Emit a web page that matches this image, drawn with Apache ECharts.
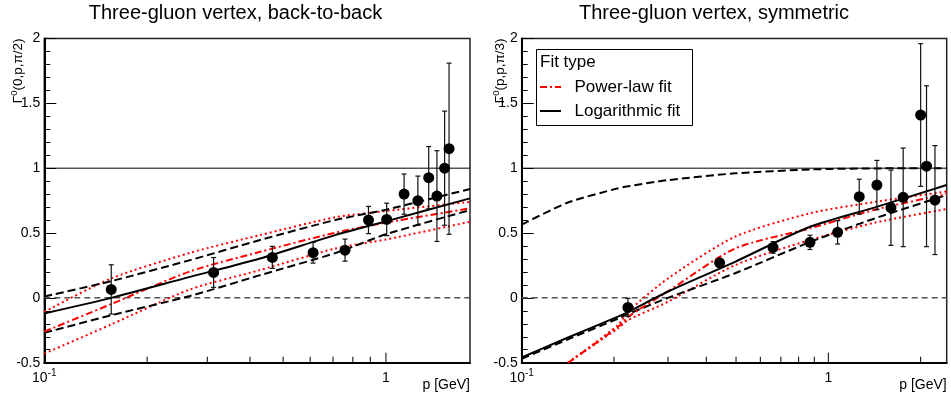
<!DOCTYPE html>
<html><head><meta charset="utf-8">
<script src="https://cdn.jsdelivr.net/npm/echarts@6/dist/echarts.min.js"></script>
<style>html,body{margin:0;padding:0;background:#fff}#c{width:951px;height:398px}</style>
</head><body><div id="c"></div>
<script>
// ---------------- data ----------------
// Left panel: back-to-back
var L_ptsP   = [0.157, 0.313, 0.465, 0.612, 0.759, 0.889, 1.005, 1.13, 1.24, 1.334, 1.41, 1.485, 1.53];
var L_ptsV   = [0.065, 0.196, 0.312, 0.348, 0.368, 0.60, 0.605, 0.80, 0.749, 0.927, 0.785, 1.0, 1.15];
var L_ptsE   = [0.19, 0.115, 0.085, 0.08, 0.085, 0.105, 0.125, 0.155, 0.19, 0.24, 0.35, 0.44, 0.66];
var L_curveP = [0.1, 0.157, 0.267, 0.428, 0.71, 1.0, 1.762];
var L_log    = [-0.12, 0.0, 0.162, 0.304, 0.484, 0.59, 0.767];
var L_logUp  = [0.01, 0.129, 0.291, 0.446, 0.60, 0.68, 0.84];
var L_logLo  = [-0.27, -0.134, 0.015, 0.175, 0.345, 0.49, 0.677];
var L_pow    = [-0.26, -0.048, 0.204, 0.355, 0.502, 0.58, 0.69];
var L_powUp  = [-0.108, 0.15, 0.347, 0.484, 0.621, 0.67, 0.74];
var L_powLo  = [-0.43, -0.205, 0.065, 0.214, 0.38, 0.45, 0.587];
var L_xMax   = 1.762;
var L_minorTicks = [0.2, 0.3, 0.4, 0.5, 0.6, 0.7, 0.8, 0.9];

// Right panel: symmetric
var R_ptsP   = [0.222, 0.442, 0.66, 0.871, 1.072, 1.261, 1.44, 1.6, 1.754, 2.0, 2.09, 2.227];
var R_ptsV   = [-0.074, 0.27, 0.389, 0.428, 0.505, 0.78, 0.87, 0.695, 0.775, 1.41, 1.015, 0.754];
var R_ptsE   = [0.07, 0.03, 0.045, 0.055, 0.09, 0.135, 0.19, 0.29, 0.38, 0.55, 0.62, 0.42];
var R_curveP = [0.1, 0.1416, 0.206, 0.222, 0.300, 0.496, 0.871, 1.419, 2.432];
var R_log    = [-0.46, -0.306, -0.145, -0.11, 0.049, 0.278, 0.548, 0.698, 0.87];
var R_logUp  = [0.565, 0.735, 0.845, 0.86, 0.908, 0.96, 0.99, 0.998, 1.0];
var R_logLo  = [-0.47, -0.32, -0.16, -0.125, 0.0, 0.19, 0.43, 0.613, 0.793];
var R_pow    = [null, -0.5, -0.225, -0.147, 0.05, 0.38, 0.536, 0.68, 0.80];
var R_powUp  = [null, -0.5, -0.21, -0.108, 0.15, 0.471, 0.652, 0.74, 0.82];
var R_powLo  = [null, -0.5, -0.235, -0.172, -0.03, 0.252, 0.446, 0.58, 0.685];
var R_xMax   = 2.432;
var R_minorTicks = [0.2, 0.3, 0.4, 0.5, 0.6, 0.7, 0.8, 0.9, 2];

var majorTicks = [1];
var refLevels = [0, 1];
var yMin = -0.5, yMax = 2, yStep = 0.5;
var titles = ['Three-gluon vertex, back-to-back', 'Three-gluon vertex, symmetric'];
var yTitleArgs = ['(0,p,\u03c0/2)', '(p,p,\u03c0/3)'];
var xTitle = 'p [GeV]';
var legendTitle = 'Fit type';
var legendNames = ['Power-law fit', 'Logarithmic fit'];

// ---------------- helpers ----------------
var FONT = '"Liberation Sans", Arial, Helvetica, sans-serif';
function pairs(xs, ys) {
  var out = [];
  for (var i = 0; i < xs.length; i++) if (ys[i] !== null) out.push([xs[i], ys[i]]);
  return out;
}
function triples(xs, ys, es) { return xs.map(function (x, i) { return [x, ys[i], es[i]]; }); }

var DOTTED = [2, 3], DASHED = [8, 4], DASHDOT = [7, 3, 2, 3], ZERODASH = [6, 4];

function curve(idx, data, color, dash, name, width, smooth) {
  return {
    type: 'line', name: name, xAxisIndex: idx, yAxisIndex: idx, data: data,
    showSymbol: false, symbol: 'none', smooth: smooth === undefined ? 0.25 : smooth,
    lineStyle: { color: color, width: width || 2, type: dash, cap: 'butt', opacity: 1 },
    silent: true, z: 3
  };
}
function errRender(params, api) {
  var x = api.value(0), y = api.value(1), e = api.value(2);
  var t = api.coord([x, y + e]), b = api.coord([x, y - e]);
  var st = { stroke: '#111', lineWidth: 1.2 };
  return { type: 'group', children: [
    { type: 'line', shape: { x1: t[0], y1: t[1], x2: b[0], y2: b[1] }, style: st },
    { type: 'line', shape: { x1: t[0] - 2.5, y1: t[1], x2: t[0] + 2.5, y2: t[1] }, style: st },
    { type: 'line', shape: { x1: b[0] - 2.5, y1: b[1], x2: b[0] + 2.5, y2: b[1] }, style: st }
  ] };
}
function tickRender(len) {
  return function (params, api) {
    var p = api.coord([api.value(0), yMin]);
    return { type: 'line', shape: { x1: p[0], y1: p[1], x2: p[0], y2: p[1] - len },
      style: { stroke: '#000', lineWidth: 1 } };
  };
}
function panelSeries(idx, P) {
  var s = [];
  s.push(curve(idx, [[0.1, refLevels[0]], [P.xMax, refLevels[0]]], '#555', ZERODASH, undefined, 1.5, false));
  s.push(curve(idx, [[0.1, refLevels[1]], [P.xMax, refLevels[1]]], '#000', 'solid', undefined, 1, false));
  s.push(curve(idx, pairs(P.cp, P.powUp), '#ff0000', DOTTED));
  s.push(curve(idx, pairs(P.cp, P.powLo), '#ff0000', DOTTED));
  s.push(curve(idx, pairs(P.cp, P.logUp), '#000', DASHED));
  s.push(curve(idx, pairs(P.cp, P.logLo), '#000', DASHED));
  s.push(curve(idx, pairs(P.cp, P.pow), '#ff0000', DASHDOT, legendNames[0]));
  s.push(curve(idx, pairs(P.cp, P.log), '#000', 'solid', legendNames[1]));
  s.push({ type: 'custom', xAxisIndex: idx, yAxisIndex: idx, data: triples(P.pp, P.pv, P.pe),
    encode: { x: 0, y: 1 }, renderItem: errRender, z: 4, silent: true });
  s.push({ type: 'scatter', xAxisIndex: idx, yAxisIndex: idx, data: pairs(P.pp, P.pv),
    symbol: 'circle', symbolSize: 11, itemStyle: { color: '#000', opacity: 1 }, z: 5, silent: true });
  s.push({ type: 'custom', xAxisIndex: idx, yAxisIndex: idx,
    data: P.minor.map(function (v) { return [v, yMin]; }), encode: { x: 0, y: 1 },
    renderItem: tickRender(6), z: 6, silent: true });
  s.push({ type: 'custom', xAxisIndex: idx, yAxisIndex: idx,
    data: majorTicks.map(function (v) { return [v, yMin]; }), encode: { x: 0, y: 1 },
    renderItem: tickRender(10), z: 6, silent: true });
  return s;
}

var grids = [
  { left: 44.3, top: 38.5, width: 425.7, height: 324.2 },
  { left: 521.7, top: 38.5, width: 425, height: 324.2 }
];

function xAxisDef(idx, max) {
  return {
    type: 'log', logBase: 10, gridIndex: idx, min: 0.1, max: max,
    axisLine: { show: true, onZero: false, lineStyle: { color: '#000', width: 2 } },
    axisTick: { show: false }, minorTick: { show: false }, splitLine: { show: false },
    axisLabel: {
      margin: 6, color: '#000', fontFamily: FONT,
      formatter: function (v) {
        if (Math.abs(v - 0.1) < 1e-6) return '{b|10}{s|-1}';
        if (Math.abs(v - 1) < 1e-6) return '{b|1}';
        return '';
      },
      rich: {
        b: { fontSize: 14, lineHeight: 18, color: '#000', fontFamily: FONT },
        s: { fontSize: 10, lineHeight: 10, verticalAlign: 'top', color: '#000', fontFamily: FONT }
      }
    }
  };
}
function yAxisDef(idx) {
  return {
    type: 'value', gridIndex: idx, min: yMin, max: yMax, interval: yStep,
    axisLine: { show: true, onZero: false, lineStyle: { color: '#000', width: 2 } },
    axisTick: { show: true, inside: true, length: 12, lineStyle: { color: '#000', width: 1 } },
    minorTick: { show: true, splitNumber: 5, length: 6, lineStyle: { color: '#000', width: 1 } },
    splitLine: { show: false },
    axisLabel: { margin: 4, color: '#000', fontSize: 14, fontFamily: FONT }
  };
}

var Lp = { cp: L_curveP, log: L_log, logUp: L_logUp, logLo: L_logLo, pow: L_pow, powUp: L_powUp, powLo: L_powLo,
  pp: L_ptsP, pv: L_ptsV, pe: L_ptsE, minor: L_minorTicks, xMax: L_xMax };
var Rp = { cp: R_curveP, log: R_log, logUp: R_logUp, logLo: R_logLo, pow: R_pow, powUp: R_powUp, powLo: R_powLo,
  pp: R_ptsP, pv: R_ptsV, pe: R_ptsE, minor: R_minorTicks, xMax: R_xMax };

var graphics = [];
graphics.push({ type: 'text', x: 235.5, y: 13, style: { text: titles[0], font: '20px ' + FONT, fill: '#000', align: 'center', verticalAlign: 'middle' } });
graphics.push({ type: 'text', x: 714, y: 13, style: { text: titles[1], font: '20px ' + FONT, fill: '#000', align: 'center', verticalAlign: 'middle' } });
[[18, yTitleArgs[0]], [500, yTitleArgs[1]]].forEach(function (a) {
  graphics.push({ type: 'text', x: a[0], y: 38.5, rotation: Math.PI / 2,
    style: { text: '{g|\u0393}{s|0}{n|' + a[1] + '}', align: 'right', verticalAlign: 'middle',
      rich: {
        g: { fontSize: 13.5, lineHeight: 17, fontFamily: FONT, fill: '#000' },
        s: { fontSize: 9.5, lineHeight: 10, verticalAlign: 'top', fontFamily: FONT, fill: '#000' },
        n: { fontSize: 13.5, lineHeight: 17, fontFamily: FONT, fill: '#000' }
      } } });
});
graphics.push({ type: 'text', x: 470, y: 385, style: { text: xTitle, font: '14px ' + FONT, fill: '#000', align: 'right', verticalAlign: 'middle' } });
graphics.push({ type: 'text', x: 946.7, y: 385, style: { text: xTitle, font: '14px ' + FONT, fill: '#000', align: 'right', verticalAlign: 'middle' } });
graphics.push({ type: 'rect', shape: { x: 536.5, y: 49.5, width: 156, height: 76 }, style: { fill: '#fff', stroke: '#000', lineWidth: 1 }, z: 10 });
graphics.push({ type: 'text', x: 540, y: 62, z: 11, style: { text: legendTitle, font: '17px ' + FONT, fill: '#000', align: 'left', verticalAlign: 'middle' } });
graphics.push({ type: 'line', z: 11, shape: { x1: 540, y1: 87, x2: 561, y2: 87 }, style: { stroke: '#ff0000', lineWidth: 2, lineDash: DASHDOT } });
graphics.push({ type: 'text', x: 574.5, y: 87, z: 11, style: { text: legendNames[0], font: '17px ' + FONT, fill: '#000', align: 'left', verticalAlign: 'middle' } });
graphics.push({ type: 'line', z: 11, shape: { x1: 540, y1: 111, x2: 561, y2: 111 }, style: { stroke: '#000', lineWidth: 2 } });
graphics.push({ type: 'text', x: 574.5, y: 111, z: 11, style: { text: legendNames[1], font: '17px ' + FONT, fill: '#000', align: 'left', verticalAlign: 'middle' } });

var chart = echarts.init(document.getElementById('c'), null, { renderer: 'canvas' });
chart.setOption({
  animation: false,
  backgroundColor: '#fff',
  textStyle: { fontFamily: FONT },
  grid: grids.map(function (g) { return Object.assign({ show: true, borderColor: '#222', borderWidth: 1.5, backgroundColor: 'transparent', containLabel: false }, g); }),
  xAxis: [xAxisDef(0, L_xMax), xAxisDef(1, R_xMax)],
  yAxis: [yAxisDef(0), yAxisDef(1)],
  series: panelSeries(0, Lp).concat(panelSeries(1, Rp)),
  graphic: graphics
});
</script></body></html>
